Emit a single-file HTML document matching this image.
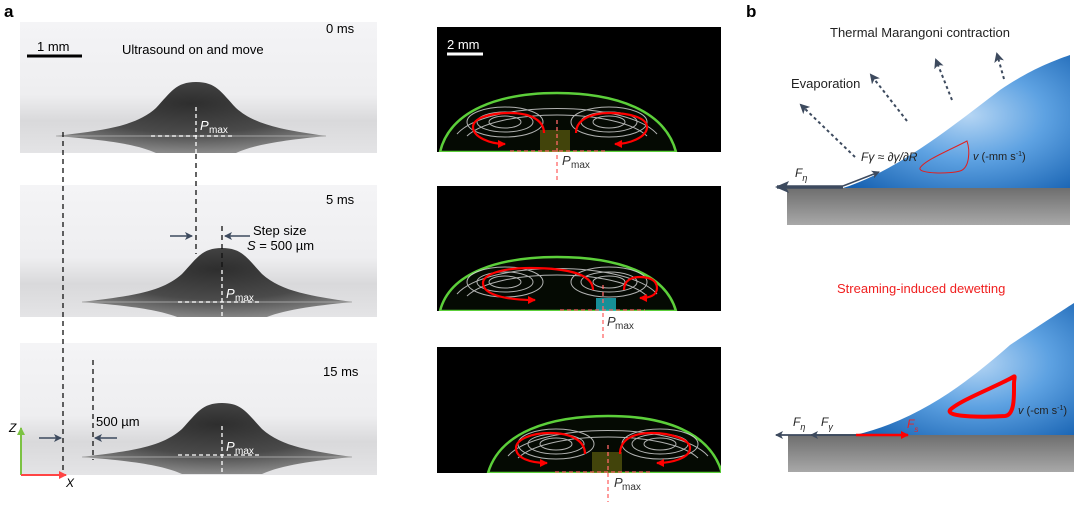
<!DOCTYPE html>
<html><head><meta charset="utf-8"><style>
body{margin:0;background:#fff;}
svg{display:block;font-family:"Liberation Sans",sans-serif;}
</style></head><body>
<svg width="1080" height="510" viewBox="0 0 1080 510" xmlns="http://www.w3.org/2000/svg">
<defs>
<linearGradient id="bg" x1="0" y1="0" x2="0" y2="1">
<stop offset="0" stop-color="#f4f4f6"/><stop offset="0.55" stop-color="#eeeef0"/><stop offset="0.75" stop-color="#d9d9db"/><stop offset="1" stop-color="#e4e4e6"/></linearGradient>
<radialGradient id="drop" cx="0.5" cy="0.3" r="0.7"><stop offset="0" stop-color="#2e2e2e"/><stop offset="0.6" stop-color="#4a4a4a"/><stop offset="1" stop-color="#8a8a8a"/></radialGradient>
<linearGradient id="sub" x1="0" y1="0" x2="0" y2="1"><stop offset="0" stop-color="#6e6e6e"/><stop offset="1" stop-color="#a8a8a8"/></linearGradient>
<radialGradient id="blue" cx="0.55" cy="0.45" r="0.75"><stop offset="0" stop-color="#b6d6f4"/><stop offset="0.45" stop-color="#5ea2e2"/><stop offset="1" stop-color="#1560b0"/></radialGradient>
<marker id="ah" markerUnits="userSpaceOnUse" markerWidth="10" markerHeight="10" refX="8" refY="5" orient="auto"><path d="M0,0 L10,5 L0,10 L2.5,5z" fill="#3d4a5e"/></marker>
<marker id="ahs" markerUnits="userSpaceOnUse" markerWidth="8" markerHeight="8" refX="7" refY="4" orient="auto"><path d="M0,0 L8,4 L0,8 L2,4z" fill="#3d4a5e"/></marker>
<marker id="ahb" markerUnits="userSpaceOnUse" markerWidth="14" markerHeight="12" refX="12" refY="6" orient="auto"><path d="M0,0 L14,6 L0,12 L3,6z" fill="#3d4a5e"/></marker>
<marker id="ar" markerUnits="userSpaceOnUse" markerWidth="8" markerHeight="8" refX="7" refY="4" orient="auto"><path d="M0,0 L8,4 L0,8z" fill="#f00"/></marker>
<marker id="ag" markerUnits="userSpaceOnUse" markerWidth="8" markerHeight="8" refX="7" refY="4" orient="auto"><path d="M0,0 L8,4 L0,8z" fill="#7cc243"/></marker>
<marker id="arr" markerUnits="userSpaceOnUse" markerWidth="8" markerHeight="8" refX="7" refY="4" orient="auto"><path d="M0,0 L8,4 L0,8z" fill="#f44"/></marker>
<g id="gdrop">
<path d="M-140,0 C-90,-6 -60,-10 -40,-28 C-25,-44 -20,-54 0,-54 C20,-54 25,-44 40,-28 C60,-10 90,-6 130,0 C90,4 60,8 40,17 L-40,17 C-60,8 -90,4 -140,0z" fill="url(#drop)"/>
<path d="M-140,0 L130,0" stroke="#aaa" stroke-width="1.5" opacity="0.6"/>
</g>
<g id="swirl" fill="none" stroke="#ddd" stroke-width="1" opacity="0.8">
<ellipse cx="-52" cy="-18" rx="38" ry="15"/><ellipse cx="-52" cy="-18" rx="28" ry="10"/><ellipse cx="-52" cy="-18" rx="16" ry="6"/>
<ellipse cx="52" cy="-18" rx="38" ry="15"/><ellipse cx="52" cy="-18" rx="28" ry="10"/><ellipse cx="52" cy="-18" rx="16" ry="6"/>
<path d="M-100,-6 C-70,-40 70,-40 100,-6"/><path d="M-90,-4 C-60,-32 60,-32 90,-4"/>
</g>
</defs>

<text x="4" y="17" font-size="17" font-weight="bold">a</text>
<text x="746" y="17" font-size="17" font-weight="bold">b</text>

<rect x="20" y="22" width="357" height="132" fill="url(#bg)"/>
<rect x="20" y="185" width="357" height="132" fill="url(#bg)"/>
<rect x="20" y="343" width="357" height="132" fill="url(#bg)"/>
<use href="#gdrop" x="196" y="136"/>
<use href="#gdrop" x="222" y="302"/>
<use href="#gdrop" x="222" y="457"/>
<rect x="20" y="153" width="357" height="2" fill="#fff"/>
<rect x="20" y="317" width="357" height="2" fill="#fff"/>

<line x1="27" y1="56" x2="82" y2="56" stroke="#000" stroke-width="3"/>
<text x="37" y="51" font-size="13">1 mm</text>
<text x="122" y="54" font-size="13">Ultrasound on and move</text>
<text x="326" y="33" font-size="13">0 ms</text>
<text x="326" y="204" font-size="13">5 ms</text>
<text x="323" y="376" font-size="13">15 ms</text>

<g stroke="#fff" stroke-width="1.3" stroke-dasharray="4,3" fill="none">
<line x1="196" y1="107" x2="196" y2="154"/><line x1="151" y1="136" x2="233" y2="136"/>
<line x1="222" y1="270" x2="222" y2="317"/><line x1="178" y1="302" x2="260" y2="302"/>
<line x1="222" y1="426" x2="222" y2="475"/><line x1="178" y1="455" x2="260" y2="455"/>
</g>
<g font-size="13" fill="#fff" font-style="italic"><text x="200" y="130">P</text><text x="226" y="298">P</text><text x="226" y="451">P</text></g>
<g font-size="10" fill="#fff"><text x="209" y="133">max</text><text x="235" y="301">max</text><text x="235" y="454">max</text></g>

<g stroke="#111" stroke-width="1.3" stroke-dasharray="5,4" fill="none">
<line x1="63" y1="132" x2="63" y2="470"/>
<line x1="196" y1="154" x2="196" y2="254"/>
<line x1="222" y1="226" x2="222" y2="270"/>
<line x1="93" y1="360" x2="93" y2="460"/>
</g>
<g stroke="#3d4a5e" stroke-width="1.6">
<line x1="170" y1="236" x2="192" y2="236" marker-end="url(#ahs)"/>
<line x1="250" y1="236" x2="225" y2="236" marker-end="url(#ahs)"/>
<line x1="39" y1="438" x2="61" y2="438" marker-end="url(#ahs)"/>
<line x1="117" y1="438" x2="95" y2="438" marker-end="url(#ahs)"/>
</g>
<text x="253" y="235" font-size="13">Step size</text>
<text x="247" y="250" font-size="13"><tspan font-style="italic">S</tspan> = 500 µm</text>
<text x="96" y="426" font-size="13">500 µm</text>
<line x1="21" y1="475" x2="21" y2="428" stroke="#7cc243" stroke-width="2" marker-end="url(#ag)"/>
<line x1="21" y1="475" x2="66" y2="475" stroke="#f44" stroke-width="2" marker-end="url(#arr)"/>
<text x="9" y="432" font-size="12" font-style="italic">Z</text>
<text x="66" y="487" font-size="12" font-style="italic">X</text>

<rect x="437" y="27" width="284" height="125" fill="#000"/>
<rect x="437" y="186" width="284" height="125" fill="#000"/>
<rect x="437" y="347" width="284" height="126" fill="#000"/>
<line x1="447" y1="54" x2="483" y2="54" stroke="#fff" stroke-width="3"/>
<text x="447" y="49" font-size="13" fill="#fff">2 mm</text>

<clipPath id="c1"><rect x="437" y="27" width="284" height="125"/></clipPath>
<clipPath id="c2"><rect x="437" y="186" width="284" height="125"/></clipPath>
<clipPath id="c3"><rect x="437" y="347" width="284" height="126"/></clipPath>
<g clip-path="url(#c1)">
<path d="M440,152 C450,110 500,93 557,93 C615,93 665,110 676,152z" fill="#050a03" stroke="#5ccf3a" stroke-width="2.5"/>
<use href="#swirl" x="557" y="140"/>
<rect x="540" y="130" width="30" height="22" fill="#6a6a10" opacity="0.6"/>
</g>
<g clip-path="url(#c2)">
<path d="M440,311 C450,272 500,257 557,257 C615,257 665,272 676,311z" fill="#050a03" stroke="#5ccf3a" stroke-width="2.5"/>
<use href="#swirl" x="557" y="300"/>
<rect x="596" y="298" width="20" height="13" fill="#20c8d8" opacity="0.7"/>
</g>
<g clip-path="url(#c3)">
<path d="M488,473 C500,432 550,416 608,416 C665,416 710,432 722,473z" fill="#050a03" stroke="#5ccf3a" stroke-width="2.5"/>
<use href="#swirl" x="608" y="462"/>
<rect x="592" y="452" width="30" height="21" fill="#6a6a10" opacity="0.6"/>
</g>
<g fill="none" stroke="#f00" stroke-width="2.2">
<path d="M544,133 C544,120 530,113 510,113 C490,113 473,118 473,127 C473,137 490,144 505,144" marker-end="url(#ar)"/>
<path d="M576,133 C576,120 590,113 610,113 C630,113 647,118 647,127 C647,137 630,144 615,144" marker-end="url(#ar)"/>
<path d="M593,290 C593,275 570,268 530,268 C500,268 483,275 483,283 C483,293 500,300 535,300" marker-end="url(#ar)"/>
<path d="M624,290 C624,280 632,277 640,277 C652,277 657,282 657,288 C657,295 650,298 640,298" marker-end="url(#ar)"/>
<path d="M585,454 C585,440 570,433 550,433 C530,433 516,440 516,448 C516,458 530,463 547,463" marker-end="url(#ar)"/>
<path d="M620,454 C620,440 632,433 652,433 C672,433 690,440 690,448 C690,458 672,463 657,463" marker-end="url(#ar)"/>
</g>
<g stroke="#f66" stroke-width="1.3" stroke-dasharray="4,3">
<line x1="557" y1="120" x2="557" y2="180"/><line x1="603" y1="285" x2="603" y2="340"/><line x1="608" y1="445" x2="608" y2="502"/>
<line x1="510" y1="151" x2="605" y2="151"/><line x1="560" y1="310" x2="645" y2="310"/><line x1="555" y1="472" x2="650" y2="472"/>
</g>
<g font-size="13" font-style="italic" fill="#333"><text x="562" y="165">P</text><text x="607" y="326">P</text><text x="614" y="487">P</text></g>
<g font-size="10" fill="#333"><text x="571" y="168">max</text><text x="615" y="329">max</text><text x="622" y="490">max</text></g>

<path d="M843,188 C900,170 960,120 1000,90 C1030,70 1050,62 1070,55 L1070,188z" fill="url(#blue)"/>
<rect x="787" y="188" width="283" height="37" fill="url(#sub)"/>
<text x="830" y="37" font-size="13" fill="#222">Thermal Marangoni contraction</text>
<text x="791" y="88" font-size="13" fill="#222">Evaporation</text>
<g stroke="#3d4a5e" stroke-width="2" stroke-dasharray="3,3">
<line x1="855" y1="157" x2="801" y2="105" marker-end="url(#ah)"/>
<line x1="907" y1="121" x2="871" y2="75" marker-end="url(#ah)"/>
<line x1="952" y1="100" x2="936" y2="60" marker-end="url(#ah)"/>
<line x1="1004" y1="79" x2="997" y2="54" marker-end="url(#ah)"/>
</g>
<line x1="843" y1="187" x2="777" y2="187" stroke="#3d4a5e" stroke-width="3.5" marker-end="url(#ahb)"/>
<line x1="843" y1="186" x2="879" y2="172" stroke="#3d4a5e" stroke-width="1.5" marker-end="url(#ahs)"/>
<text x="795" y="177" font-size="12" font-style="italic" fill="#222">F<tspan font-size="9" dy="4">η</tspan></text>
<text x="861" y="161" font-size="12" font-style="italic" fill="#222">Fγ ≈ ∂γ/∂R</text>
<path d="M967,141 C950,150 925,160 920,168 C918,174 950,174 960,171 C970,168 970,150 967,141z" fill="none" stroke="#e02020" stroke-width="1"/>
<text x="973" y="160" font-size="11" fill="#222"><tspan font-style="italic">v</tspan> (-mm s<tspan font-size="7" dy="-4">-1</tspan><tspan dy="4">)</tspan></text>

<path d="M855,435 C920,420 970,380 1010,345 C1040,325 1060,312 1074,303 L1074,435z" fill="url(#blue)"/>
<rect x="788" y="435" width="286" height="37" fill="url(#sub)"/>
<text x="837" y="293" font-size="13" fill="#f02020">Streaming-induced dewetting</text>
<path d="M1013,377 C1000,385 960,400 950,410 C945,418 990,417 1005,416 C1015,415 1014,395 1014,384 C1014,378 1016,375 1013,377z" fill="none" stroke="#f00" stroke-width="4"/>
<text x="1018" y="414" font-size="11" fill="#222"><tspan font-style="italic">v</tspan> (-cm s<tspan font-size="7" dy="-4">-1</tspan><tspan dy="4">)</tspan></text>
<line x1="860" y1="435" x2="776" y2="435" stroke="#3d4a5e" stroke-width="1.8" marker-end="url(#ahs)"/>
<line x1="860" y1="435" x2="811" y2="435" stroke="#3d4a5e" stroke-width="1.8" marker-end="url(#ahs)"/>
<line x1="856" y1="435" x2="908" y2="435" stroke="#f00" stroke-width="2.5" marker-end="url(#ar)"/>
<text x="793" y="426" font-size="12" font-style="italic" fill="#222">F<tspan font-size="9" dy="4">η</tspan></text>
<text x="821" y="426" font-size="12" font-style="italic" fill="#222">F<tspan font-size="9" dy="4">γ</tspan></text>
<text x="907" y="428" font-size="12" font-style="italic" fill="#f02020">F<tspan font-size="8" dy="4">s</tspan></text>
</svg>
</body></html>
